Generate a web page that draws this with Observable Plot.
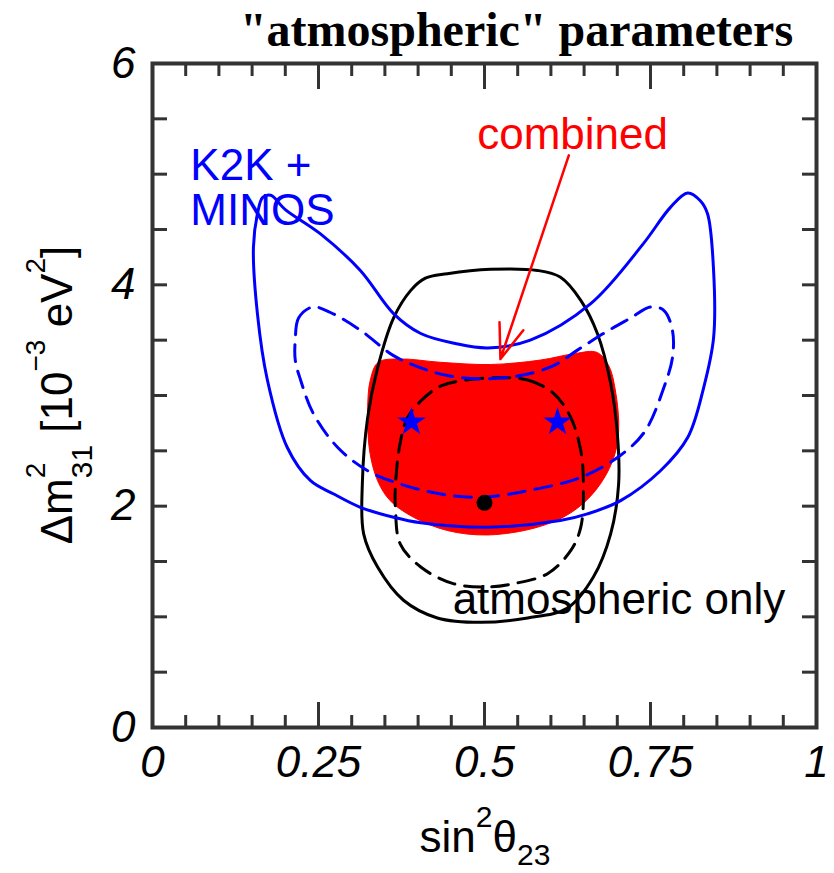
<!DOCTYPE html>
<html>
<head>
<meta charset="utf-8">
<script src="https://cdn.jsdelivr.net/npm/d3@7"></script>
<script src="https://cdn.jsdelivr.net/npm/@observablehq/plot@0.6"></script>
<style>
  body { margin: 0; background: #fff; }
</style>
</head>
<body>
<div id="chart"></div>
<script>
// Allowed regions in the (sin^2 theta23, Delta m^2_31 [1e-3 eV^2]) plane.
// Each contour is a closed list of [sin2theta23, dm2] points.

// K2K + MINOS, outer (solid) contour
const k2kMinosOuter = [
  [0.158,4.64],[0.166,4.79],[0.178,4.81],[0.200,4.68],[0.253,4.46],[0.313,4.13],
  [0.363,3.74],[0.404,3.56],[0.456,3.47],[0.505,3.43],[0.569,3.50],[0.660,3.83],
  [0.739,4.37],[0.780,4.70],[0.806,4.83],[0.825,4.76],[0.836,4.64],[0.845,4.13],
  [0.845,3.52],[0.830,3.07],[0.806,2.62],[0.765,2.32],[0.705,2.05],[0.655,1.93],
  [0.614,1.87],[0.505,1.81],[0.404,1.85],[0.363,1.90],[0.313,1.99],[0.273,2.11],
  [0.238,2.23],[0.203,2.53],[0.173,3.14],[0.158,3.74],[0.152,4.34]
];

// K2K + MINOS, inner (dashed) contour
const k2kMinosInner = [
  [0.241,3.80],[0.220,3.70],[0.215,3.50],[0.215,3.32],[0.223,3.14],[0.242,2.84],
  [0.279,2.53],[0.324,2.32],[0.373,2.20],[0.434,2.11],[0.494,2.08],[0.565,2.14],
  [0.645,2.26],[0.705,2.46],[0.742,2.68],[0.770,3.07],[0.783,3.34],[0.783,3.59],
  [0.770,3.77],[0.750,3.80],[0.720,3.70],[0.679,3.56],[0.640,3.41],[0.604,3.27],
  [0.554,3.18],[0.494,3.15],[0.444,3.18],[0.404,3.25],[0.363,3.36],[0.313,3.59],
  [0.268,3.75]
];

// Atmospheric only, outer (solid) contour
const atmOuter = [
  [0.444,4.10],[0.509,4.14],[0.580,4.13],[0.614,4.07],[0.645,3.86],[0.670,3.56],
  [0.690,3.11],[0.700,2.66],[0.702,2.20],[0.690,1.75],[0.664,1.36],[0.625,1.08],
  [0.565,0.99],[0.494,0.95],[0.429,0.99],[0.378,1.15],[0.339,1.45],[0.318,1.75],
  [0.316,2.20],[0.324,2.80],[0.339,3.25],[0.363,3.70],[0.389,3.95],[0.411,4.06]
];

// Atmospheric only, inner (dashed) contour
const atmInner = [
  [0.514,3.16],[0.565,3.14],[0.604,3.02],[0.630,2.80],[0.645,2.50],[0.649,2.20],
  [0.645,1.81],[0.630,1.60],[0.595,1.39],[0.544,1.30],[0.505,1.27],[0.453,1.30],
  [0.404,1.45],[0.373,1.66],[0.366,1.96],[0.366,2.20],[0.373,2.57],[0.384,2.80],
  [0.404,2.95],[0.429,3.07],[0.453,3.12]
];

// Combined allowed region (filled)
const combined = [
  [0.340,3.30],[0.373,3.33],[0.434,3.30],[0.509,3.28],[0.584,3.32],[0.637,3.38],
  [0.669,3.39],[0.687,3.27],[0.697,3.05],[0.702,2.68],[0.693,2.41],[0.667,2.14],
  [0.630,1.94],[0.580,1.81],[0.505,1.74],[0.444,1.78],[0.393,1.90],[0.358,2.05],
  [0.339,2.23],[0.327,2.50],[0.324,2.86],[0.328,3.14]
];

// Best-fit points
const k2kMinosBest = [[0.39,2.76],[0.61,2.76]];
const atmBest = [[0.5,2.03]];

// Annotations
const labelK2K = [{text: "K2K +\nMINOS", x: 0.057, y: 4.54}];
const labelCombined = [{text: "combined", x: 0.489, y: 5.23}];
const labelAtm = [{text: "atmospheric only", x: 0.452, y: 1.03}];
const combinedArrow = [{x1: 0.627, y1: 5.17, x2: 0.524, y2: 3.33}];
const title = ["\"atmospheric\" parameters"];

// Axis ticks
const xTickLabels = [0, 0.25, 0.5, 0.75, 1];
const xMajorTicks = [0.25, 0.5, 0.75];
const xMinorTicks = [0.05,0.1,0.15,0.2,0.3,0.35,0.4,0.45,0.55,0.6,0.65,0.7,0.8,0.85,0.9,0.95];
const yTickLabels = [0, 2, 4, 6];
const yTicks = [0.5,1,1.5,2,2.5,3,3.5,4,4.5,5,5.5];

const SANS = "'Liberation Sans', Arial, Helvetica, sans-serif";
const tickStroke = "#333";

const px = d => d[0], py = d => d[1];

const chart = Plot.plot({
  width: 834,
  height: 873,
  marginLeft: 152,
  marginRight: 18,
  marginTop: 63,
  marginBottom: 146,
  x: {domain: [0, 1]},
  y: {domain: [0, 6]},
  style: {fontFamily: SANS, background: "white", color: "black", overflow: "visible"},
  marks: [
    // combined region
    Plot.line(combined, {x: px, y: py, curve: "catmull-rom-closed", fill: "#ff0000", stroke: "#ff0000", strokeWidth: 1}),
    // atmospheric only
    Plot.line(atmOuter, {x: px, y: py, curve: "catmull-rom-closed", stroke: "black", strokeWidth: 3}),
    Plot.line(atmInner, {x: px, y: py, curve: "catmull-rom-closed", stroke: "black", strokeWidth: 3, strokeDasharray: "17,10"}),
    // K2K + MINOS
    Plot.line(k2kMinosOuter, {x: px, y: py, curve: "catmull-rom-closed", stroke: "#0000ff", strokeWidth: 3}),
    Plot.line(k2kMinosInner, {x: px, y: py, curve: "catmull-rom-closed", stroke: "#0000ff", strokeWidth: 3, strokeDasharray: "17,10"}),
    // best fits
    Plot.dot(k2kMinosBest, {x: px, y: py, symbol: "star", r: 9, fill: "#0000ff", stroke: "none"}),
    Plot.dot(atmBest, {x: px, y: py, r: 8, fill: "black", stroke: "none"}),
    // annotations
    Plot.arrow(combinedArrow, {x1: "x1", y1: "y1", x2: "x2", y2: "y2", stroke: "#ff0000", strokeWidth: 2.5, headLength: 22, headAngle: 40}),
    Plot.text(labelK2K, {x: "x", y: "y", text: "text", fill: "#0000ff", fontSize: 44, textAnchor: "start", lineAnchor: "bottom", lineHeight: 1.02}),
    Plot.text(labelCombined, {x: "x", y: "y", text: "text", fill: "#ff0000", fontSize: 44, textAnchor: "start", lineAnchor: "bottom"}),
    Plot.text(labelAtm, {x: "x", y: "y", text: "text", fill: "black", fontSize: 44, textAnchor: "start", lineAnchor: "bottom"}),
    // title
    Plot.text(title, {text: d => d, frameAnchor: "top", dx: 32, dy: -18, lineAnchor: "bottom",
      fontFamily: "'Liberation Serif', 'Times New Roman', serif", fontWeight: "bold", fontSize: 48, fill: "black"}),
    // tick labels
    Plot.axisX(xTickLabels, {anchor: "bottom", tickSize: 0, tickPadding: 18, fontSize: 44, fontStyle: "italic", tickFormat: d => String(d), label: null}),
    Plot.axisY(yTickLabels, {anchor: "left", tickSize: 0, tickPadding: 17, fontSize: 44, fontStyle: "italic", tickFormat: d => String(d), label: null}),
    // inward ticks on all four sides
    Plot.axisX(xMinorTicks, {anchor: "bottom", tickSize: -12, tickFormat: () => "", stroke: tickStroke, strokeWidth: 3, label: null}),
    Plot.axisX(xMajorTicks, {anchor: "bottom", tickSize: -25, tickFormat: () => "", stroke: tickStroke, strokeWidth: 3, label: null}),
    Plot.axisX(xMinorTicks, {anchor: "top", tickSize: -12, tickFormat: () => "", stroke: tickStroke, strokeWidth: 3, label: null}),
    Plot.axisX(xMajorTicks, {anchor: "top", tickSize: -25, tickFormat: () => "", stroke: tickStroke, strokeWidth: 3, label: null}),
    Plot.axisY(yTicks, {anchor: "left", tickSize: -15, tickFormat: () => "", stroke: tickStroke, strokeWidth: 3, label: null}),
    Plot.axisY(yTicks, {anchor: "right", tickSize: -15, tickFormat: () => "", stroke: tickStroke, strokeWidth: 3, label: null}),
    Plot.frame({stroke: tickStroke, strokeWidth: 4})
  ]
});

document.getElementById("chart").append(chart);

// Axis titles with superscripts and subscripts
function richText(text, parts) {
  let cur = 0;
  for (const p of parts) {
    const shift = p.shift || 0;
    const ts = text.append("tspan")
      .attr("font-size", p.size)
      .attr("dy", shift - cur)
      .text(p.text);
    if (p.dx) ts.attr("dx", p.dx);
    cur = shift;
  }
}

const svg = d3.select(chart);

const xTitle = svg.append("text")
  .attr("x", 485).attr("y", 852)
  .attr("text-anchor", "middle")
  .attr("font-family", SANS)
  .attr("fill", "black");
richText(xTitle, [
  {text: "sin", size: 44},
  {text: "2", size: 30, shift: -25},
  {text: "\u03b8", size: 44},
  {text: "23", size: 30, shift: 13}
]);

const yTitle = svg.append("text")
  .attr("transform", "translate(72,395) rotate(-90)")
  .attr("text-anchor", "middle")
  .attr("font-family", SANS)
  .attr("fill", "black");
richText(yTitle, [
  {text: "\u0394m", size: 44},
  {text: "2", size: 28, shift: -27},
  {text: "31", size: 30, shift: 20, dx: -15.6},
  {text: " [10", size: 44},
  {text: "\u22123", size: 28, shift: -27},
  {text: " eV", size: 44},
  {text: "2", size: 28, shift: -27},
  {text: "]", size: 44}
]);
</script>
</body>
</html>
